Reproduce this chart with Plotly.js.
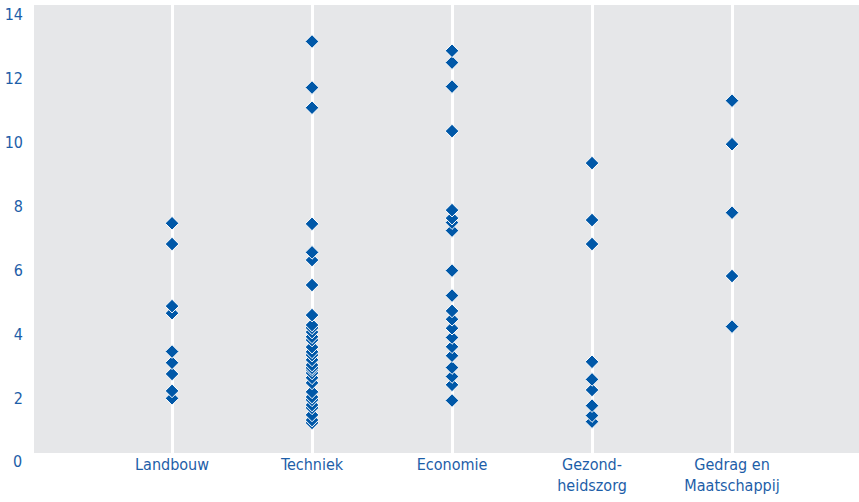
<!DOCTYPE html>
<html>
<head>
<meta charset="utf-8">
<script src="https://cdn.plot.ly/plotly-3.0.1.min.js"></script>
<style>html,body{margin:0;padding:0;background:#fff;}#chart{width:859px;height:502px;}</style>
</head>
<body>
<div id="chart"></div>
<script>
const categories = ["Landbouw", "Techniek", "Economie", "Gezond-<br>heidszorg", "Gedrag en<br>Maatschappij"];

const landbouw = [1.99, 2.22, 2.75, 3.10, 3.45, 4.65, 4.87, 6.81, 7.46];
const techniek = [1.22, 1.31, 1.47, 1.69, 1.78, 1.94, 2.03, 2.19, 2.47, 2.63, 2.78, 2.88, 2.94, 3.03, 3.19, 3.34, 3.44, 3.59, 3.81, 3.91, 4.06, 4.19, 4.28, 4.59, 5.53, 6.31, 6.55, 7.44, 11.07, 11.70, 13.14];
const economie = [1.92, 2.41, 2.67, 2.95, 3.32, 3.60, 3.89, 4.18, 4.46, 4.72, 5.20, 5.98, 7.23, 7.48, 7.62, 7.87, 10.34, 11.73, 12.48, 12.85];
const gezondheidszorg = [1.26, 1.45, 1.76, 2.25, 2.58, 3.13, 6.81, 7.56, 9.34];
const gedrag = [4.23, 5.81, 7.79, 9.93, 11.29];

const yTicks = [2, 4, 6, 8, 10, 12, 14];

const series = [landbouw, techniek, economie, gezondheidszorg, gedrag];
const xs = [], ys = [];
series.forEach((vals, i) => vals.forEach(v => { xs.push(categories[i]); ys.push(v); }));

const blue = '#0058a8';
const labelBlue = '#1d5ea8';
const font = {family: '"Liberation Sans Narrow", "DejaVu Sans Condensed", "Roboto Condensed", sans-serif', size: 16, color: labelBlue};

const trace = {
  type: 'scatter', mode: 'markers', x: xs, y: ys,
  marker: {symbol: 'diamond', size: 10.5, color: blue, line: {color: '#ffffff', width: 1}},
  hoverinfo: 'x+y', showlegend: false, cliponaxis: false
};

const layout = {
  width: 859, height: 502,
  margin: {l: 34, r: 0, t: 5, b: 49},
  paper_bgcolor: '#ffffff', plot_bgcolor: '#e6e7e9',
  font: font,
  xaxis: {
    type: 'category', categoryorder: 'array', categoryarray: categories,
    range: [-0.986, 4.907], showgrid: true, gridcolor: '#ffffff', gridwidth: 3,
    zeroline: false, showline: false, ticks: '', tickfont: font, fixedrange: true
  },
  yaxis: {
    range: [0.28, 14.28], tickvals: yTicks, ticktext: yTicks.map(String),
    showgrid: false, zeroline: false, showline: false, ticks: '',
    ticklabelstandoff: 10, tickfont: font, fixedrange: true
  },
  annotations: [{
    xref: 'paper', yref: 'paper', x: 0, y: -0.28 / 14, text: '0', showarrow: false,
    xanchor: 'right', yanchor: 'middle', xshift: -10, font: font
  }]
};

Plotly.newPlot('chart', [trace], layout, {displayModeBar: false, staticPlot: true});
</script>
</body>
</html>
